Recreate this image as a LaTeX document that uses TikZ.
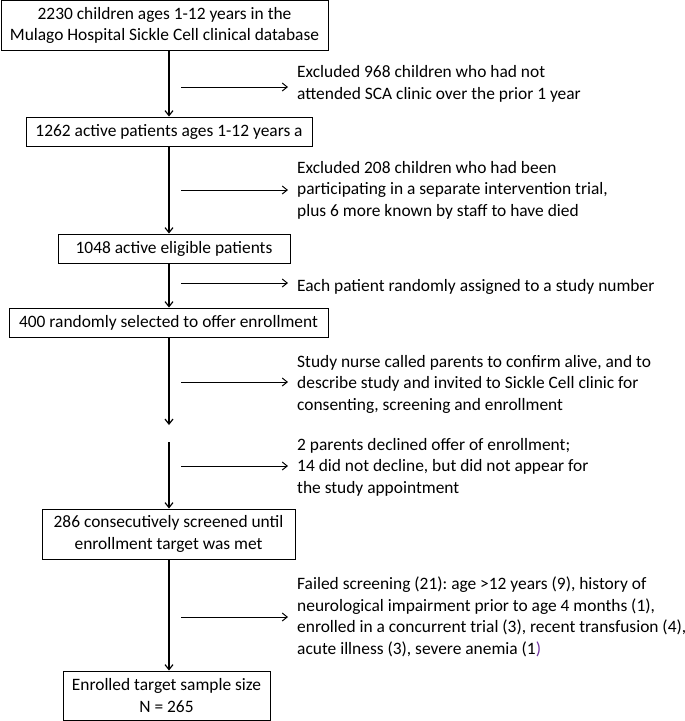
\documentclass[tikz,border=0pt]{standalone}
\usepackage{fontspec}
\setmainfont{Carlito}
\usepackage{tikz}
\usetikzlibrary{arrows.meta}
\definecolor{morado}{RGB}{112,48,160}
\frenchspacing
\tikzset{
	caja/.style={draw=black, line width=.9pt, align=center, inner sep=0pt, minimum height=29pt},
	nota/.style={anchor=west, align=left, inner sep=0pt},
	flecha/.style={-{Straight Barb[length=5pt,width=8pt]}, line width=1.2pt},
	lateral/.style={-{Straight Barb[length=5pt,width=8pt]}, line width=1pt, shorten >=9pt},
}

\begin{document}
\begin{tikzpicture}[x=1pt, y=-1pt, font=\fontsize{17.4}{21.5}\selectfont]
				\useasboundingbox (0,0) rectangle (685,721);
				%Cajas
				\node[caja, minimum width=327pt, minimum height=50pt] (base) at (164.5,25.5) {2230 children ages 1-12 years in the\\Mulago Hospital Sickle Cell clinical database};
				\node[caja, minimum width=286pt] (activos) at (169,131.5) {1262 active patients ages 1-12 years a};
				\node[caja, minimum width=232pt] (elegibles) at (174,248.5) {1048 active eligible patients};
				\node[caja, minimum width=319pt] (azar) at (168.5,322.5) {400 randomly selected to offer enrollment};
				\node[caja, minimum width=253pt, minimum height=50pt] (tamizados) at (168.5,534) {286 consecutively screened until\\enrollment target was met};
				\node[caja, minimum width=207pt, minimum height=49pt] (enrolados) at (166.5,695.5) {Enrolled target sample size\\N = 265};

				%Notas
				\node[nota] (excl1) at (297,84) {Excluded 968 children who had not\\attended SCA clinic over the prior 1 year};
				\node[nota] (excl2) at (297,190) {Excluded 208 children who had been\\participating in a separate intervention trial,\\plus 6 more known by staff to have died};
				\node[nota] (numero) at (297,287) {Each patient randomly assigned to a study number};
				\node[nota] (llamada) at (297,384) {Study nurse called parents to confirm alive, and to\\describe study and invited to Sickle Cell clinic for\\consenting, screening and enrollment};
				\node[nota] (rechazo) at (297,467) {2 parents declined offer of enrollment;\\14 did not decline, but did not appear for\\the study appointment};
				\node[nota] (fallo) at (297,617) {Failed screening (21): age >12 years (9), history of\\neurological impairment prior to age 4 months (1),\\enrolled in a concurrent trial (3), recent transfusion (4),\\acute illness (3), severe anemia (1\textcolor{morado}{)}};

				%eje
				\coordinate (eje) at (169,0);
				\coordinate (fin1) at (169,425);
				\coordinate (ini2) at (169,442);
				\draw[flecha] (base.south -| eje) -- (activos.north -| eje);
				\draw[flecha] (activos.south -| eje) -- (elegibles.north -| eje);
				\draw[flecha] (elegibles.south -| eje) -- (azar.north -| eje);
				\draw[flecha] (azar.south -| eje) -- (fin1);
				\draw[flecha] (ini2) -- (tamizados.north -| eje);
				\draw[flecha] (tamizados.south -| eje) -- (enrolados.north -| eje);

				% flechas laterales
				\coordinate (s1) at (181,87);
				\coordinate (s2) at (181,190);
				\coordinate (s3) at (181,283);
				\coordinate (s4) at (181,382);
				\coordinate (s5) at (181,466);
				\coordinate (s6) at (181,617);
				\draw[lateral] (s1) -- (s1 -| excl1.west);
				\draw[lateral] (s2) -- (s2 -| excl2.west);
				\draw[lateral] (s3) -- (s3 -| numero.west);
				\draw[lateral] (s4) -- (s4 -| llamada.west);
				\draw[lateral] (s5) -- (s5 -| rechazo.west);
				\draw[lateral] (s6) -- (s6 -| fallo.west);
\end{tikzpicture}
\end{document}
